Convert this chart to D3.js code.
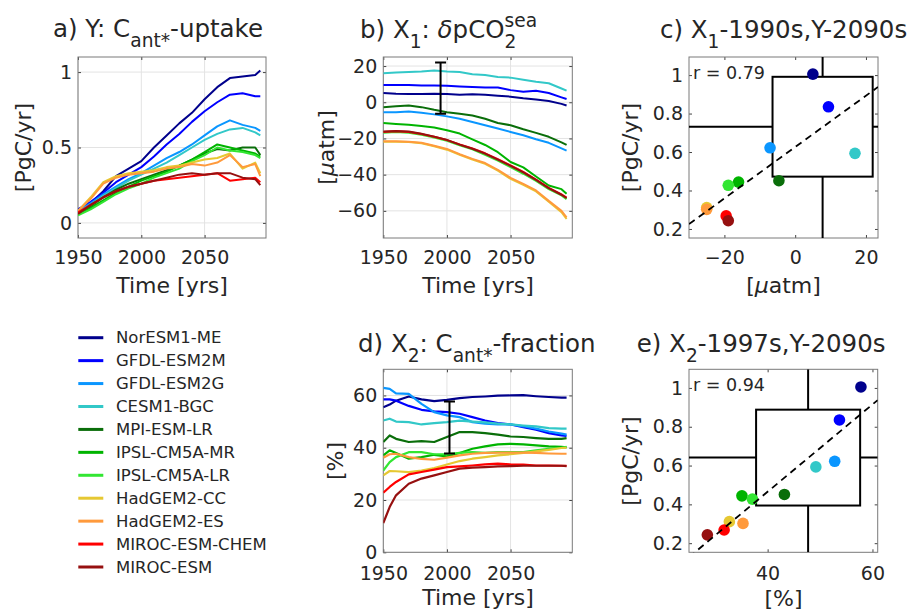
<!DOCTYPE html>
<html>
<head>
<meta charset="utf-8">
<script src="https://cdn.jsdelivr.net/npm/d3@7"></script>
<style>
	body { margin: 0; background: #fff; }
	svg { font-family: "DejaVu Sans", sans-serif; fill: #262626; }
</style>
</head>
<body>
<svg id="fig" width="913" height="610"></svg>
<script>
// model names + colours (legend order)
var models = ['NorESM1-ME', 'GFDL-ESM2M', 'GFDL-ESM2G', 'CESM1-BGC', 'MPI-ESM-LR', 'IPSL-CM5A-MR',
	'IPSL-CM5A-LR', 'HadGEM2-CC', 'HadGEM2-ES', 'MIROC-ESM-CHEM', 'MIROC-ESM'];
var colors = ['#00008c', '#0000ff', '#0a96ff', '#32c8c8', '#0a6e0a', '#00b400',
	'#32e632', '#e6c832', '#ff9a3c', '#ff0000', '#961010'];

// a) C_ant* uptake [PgC/yr]
var yearsA = [1950, 1960, 1970, 1980, 1990, 2000, 2010, 2020, 2030, 2040, 2050, 2060, 2070, 2080, 2090, 2094];
var uptake = [
	[0.09, 0.13, 0.21, 0.31, 0.36, 0.41, 0.50, 0.58, 0.66, 0.73, 0.82, 0.90, 0.96, 0.97, 0.98, 1.01],
	[0.09, 0.14, 0.20, 0.27, 0.32, 0.37, 0.44, 0.52, 0.59, 0.67, 0.74, 0.80, 0.85, 0.86, 0.84, 0.84],
	[0.08, 0.13, 0.19, 0.24, 0.29, 0.33, 0.38, 0.43, 0.47, 0.52, 0.58, 0.64, 0.68, 0.65, 0.63, 0.61],
	[0.08, 0.12, 0.18, 0.23, 0.28, 0.32, 0.36, 0.40, 0.45, 0.50, 0.55, 0.59, 0.62, 0.63, 0.60, 0.58],
	[0.06, 0.11, 0.17, 0.22, 0.26, 0.29, 0.32, 0.35, 0.38, 0.42, 0.46, 0.49, 0.48, 0.50, 0.50, 0.45],
	[0.06, 0.10, 0.15, 0.20, 0.24, 0.28, 0.31, 0.34, 0.38, 0.42, 0.47, 0.52, 0.50, 0.48, 0.46, 0.44],
	[0.05, 0.09, 0.14, 0.19, 0.23, 0.26, 0.30, 0.33, 0.36, 0.41, 0.45, 0.50, 0.48, 0.47, 0.45, 0.43],
	[0.08, 0.17, 0.27, 0.31, 0.33, 0.34, 0.35, 0.37, 0.38, 0.40, 0.42, 0.43, 0.46, 0.36, 0.40, 0.33],
	[0.08, 0.16, 0.26, 0.30, 0.32, 0.33, 0.34, 0.36, 0.37, 0.39, 0.38, 0.40, 0.45, 0.37, 0.39, 0.31],
	[0.07, 0.12, 0.17, 0.21, 0.24, 0.26, 0.28, 0.29, 0.30, 0.31, 0.32, 0.33, 0.28, 0.29, 0.30, 0.27],
	[0.06, 0.12, 0.17, 0.21, 0.24, 0.26, 0.28, 0.30, 0.32, 0.33, 0.32, 0.33, 0.33, 0.30, 0.29, 0.25]
];

// b) delta pCO2 sea [uatm]
var dpco2 = [
	[5.1, 4.7, 4.5, 4.5, 4.7, 4.5, 4.2, 4.4, 4.2, 3.6, 3.1, 2.2, 1.5, 0.7, -0.9, -1.8],
	[9.5, 9.5, 9.5, 9.3, 9.3, 9.1, 8.7, 8.4, 8.2, 8.2, 6.7, 5.8, 6.4, 5.1, 2.7, 1.8],
	[-5.5, -5.5, -5.1, -5.8, -6.7, -7.8, -9.1, -10.9, -12.7, -14.5, -16.4, -18.2, -20.4, -22.4, -25.5, -26.7],
	[16, 16.4, 16.7, 17, 17.5, 17, 16.7, 15.5, 15, 14, 13.6, 12.4, 11.3, 10.5, 7.6, 6.4],
	[-2.7, -2.2, -1.8, -2.7, -4.2, -5.5, -6.4, -7.3, -9.1, -11.5, -12.7, -14.9, -16.9, -19.1, -22.2, -23.6],
	[-11.5, -12, -12.4, -13.1, -14, -15.5, -17.3, -20.5, -23.6, -27.6, -33, -36, -41, -46, -48, -50.5],
	[-16.8, -16.4, -16.8, -18, -19.5, -21.3, -23.8, -26, -29, -32.3, -35.8, -39.5, -43.5, -48, -51.5, -53.5],
	[-21.8, -21.8, -22, -22.7, -24.3, -26.2, -29, -31.6, -34, -37.8, -42.3, -45.6, -49.3, -55, -60.7, -64.5],
	[-21.5, -21.5, -21.8, -22.4, -24, -25.8, -28.7, -31.3, -33.6, -37.3, -41.8, -45.1, -48.7, -54.5, -60, -63.6],
	[-16.4, -16, -16.4, -17.6, -19.1, -20.9, -23.3, -25.5, -28.2, -31.5, -34.9, -38.5, -42.7, -47.3, -50.9, -52.7],
	[-16.2, -15.9, -16.2, -17.4, -19, -20.8, -23.4, -25.7, -28.4, -31.7, -35.1, -38.7, -42.9, -47.5, -51.1, -52.9]
];

// d) C_ant* fraction [%]
var yearsD = [1950, 1955, 1960, 1970, 1980, 1990, 2000, 2010, 2020, 2030, 2040, 2050, 2060, 2070, 2080, 2090, 2094];
var fraction = [
	[55.5, 56.5, 58, 59.6, 58.5, 57.8, 58.3, 59, 59.4, 59.6, 59.9, 60, 60.1, 59.7, 59.4, 59.2, 59.2],
	[58.5, 58.5, 58, 56, 54.5, 53.9, 53.6, 53, 51.7, 50.4, 49.4, 48.9, 47.9, 46.9, 45.6, 44.7, 44.5],
	[62.9, 62.5, 60.8, 60.6, 56.8, 53.6, 52.4, 51.7, 49.8, 49.2, 48.9, 48.9, 48.2, 47.3, 46.2, 45.4, 45],
	[50.4, 51.1, 50, 49.8, 48.9, 49.4, 49.8, 50.4, 50, 49.7, 49.2, 48.9, 48.5, 48.2, 47.5, 47.3, 47.3],
	[42.2, 44.7, 43.4, 42.2, 42.5, 42.2, 44.1, 46, 46, 45.6, 45, 44.3, 44.1, 43.7, 43.4, 43.4, 43.7],
	[37.1, 39, 38, 35.8, 36.4, 37.3, 36.7, 38, 39.6, 40.5, 41.3, 41.5, 41.3, 40.9, 40.5, 40.3, 40.1],
	[31.3, 34.5, 36.4, 38.3, 38.3, 37.5, 37.5, 38, 38.3, 38, 38.3, 38.3, 38.3, 39, 39.6, 40, 40.3],
	[29.4, 31.1, 31, 30.7, 31.3, 32.2, 33.6, 34.9, 35.8, 36.4, 37.1, 37.5, 38, 38.6, 39.2, 39.9, 40],
	[36.2, 37.5, 37.7, 36.4, 35.7, 35.4, 36.2, 37.1, 37.7, 38, 38.1, 38.1, 38.1, 38, 37.8, 37.7, 37.7],
	[22.8, 25, 26.9, 29.8, 30.7, 31.6, 32.6, 32.9, 33.2, 33.6, 33.9, 33.6, 33.5, 33.2, 33.2, 33.1, 33.1],
	[11.2, 17.3, 21.8, 26.2, 28.2, 29.4, 30.7, 32, 32.4, 32.6, 32.9, 33, 33.1, 33.1, 33.1, 33.1, 33]
];

// scatter values (c, e)
var x1990s = [5.0, 9.4, -7.1, 16.9, -4.6, -16.0, -18.9, -25.0, -25.0, -19.5, -18.9];
var x1997s = [57.8, 53.7, 52.8, 49.2, 43.2, 35.1, 37.1, 32.7, 35.3, 31.7, 28.5];
var y2090s = [1.005, 0.835, 0.622, 0.593, 0.451, 0.444, 0.427, 0.311, 0.302, 0.268, 0.243];

// observational constraints (boxes / error bars)
var obsX1 = [-6.4, 21.9], obsY1 = [0.472, 0.991], obsYear1 = 1995;
var obsX2 = [37.8, 57.65], obsY2 = [0.394, 0.888], obsYear2 = 2002;
var rText = ['r = 0.79', 'r = 0.94'];

var svg = d3.select('#fig');
var tickFont = 19, labelFont = 22, titleFont = 24.5;

// text with sub/superscripts: parts = [text, kind, stackOnPrev, italic]
function richText(g, x, y, parts, size) {
	var cx = x, lastX = x;
	var t0 = g.append('g').style('font-size', size + 'px');
	parts.forEach(function(p) {
		var small = p[1] == 'sub' || p[1] == 'sup';
		var dy = p[1] == 'sub' ? size * 0.42 : (p[1] == 'sup' ? -size * 0.46 : 0);
		var px = p[2] ? lastX : cx;
		lastX = px;
		var t = t0.append('text').attr('x', px).attr('y', y + dy)
			.style('font-size', (small ? size * 0.76 : size) + 'px')
			.text(p[0].replace(/ /g, '\u00a0'));
		if (p[3]) t.style('font-style', 'italic');
		cx = Math.max(cx, px + t.node().getComputedTextLength());
	});
	return t0;
}

function makeAxes(box, xDom, yDom, xTicks, yTicks, opts) {
	var g = svg.append('g').attr('transform', 'translate(' + box.x + ',' + box.y + ')');
	var x = d3.scaleLinear().domain(xDom).range([0, box.w]);
	var y = d3.scaleLinear().domain(yDom).range([box.h, 0]);
	if (opts.grid) {
		g.append('g').selectAll('line').data(xTicks).join('line')
			.attr('x1', d => x(d)).attr('x2', d => x(d)).attr('y1', 0).attr('y2', box.h)
			.attr('stroke', '#e3e3e3');
		g.append('g').selectAll('line').data(yTicks).join('line')
			.attr('y1', d => y(d)).attr('y2', d => y(d)).attr('x1', 0).attr('x2', box.w)
			.attr('stroke', '#e3e3e3');
	}
	var axB = g.append('g').attr('transform', 'translate(0,' + box.h + ')')
		.call(d3.axisBottom(x).tickValues(xTicks).tickSize(-3).tickPadding(opts.xpad || 13).tickFormat(opts.xfmt || d3.format('d')));
	var axL = g.append('g')
		.call(d3.axisLeft(y).tickValues(yTicks).tickSize(-3).tickPadding(6).tickFormat(opts.yfmt || d3.format('d')));
	g.append('g').call(d3.axisTop(x).tickValues(xTicks).tickSize(-3).tickFormat(''));
	g.append('g').attr('transform', 'translate(' + box.w + ',0)')
		.call(d3.axisRight(y).tickValues(yTicks).tickSize(-3).tickFormat(''));
	g.selectAll('.domain').remove();
	g.selectAll('.tick line').attr('stroke', '#444');
	[axB, axL].forEach(function(a) {
		a.selectAll('text').style('font-size', tickFont + 'px').style('font-family', 'DejaVu Sans')
			.attr('fill', '#262626');
	});
	g.append('rect').attr('width', box.w).attr('height', box.h)
		.attr('fill', 'none').attr('stroke', '#7a7a7a');
	var id = 'clip' + Math.round(box.x) + '_' + Math.round(box.y);
	g.append('clipPath').attr('id', id).append('rect').attr('width', box.w).attr('height', box.h);
	var plot = g.append('g').attr('clip-path', 'url(#' + id + ')');
	return {g: g, x: x, y: y, plot: plot, box: box};
}

function label(x, y, parts, rotate) {
	var t = svg.append('text').attr('text-anchor', 'middle').attr('dy', '0.35em')
		.style('font-size', labelFont + 'px')
		.attr('transform', 'translate(' + x + ',' + y + ')' + (rotate ? ' rotate(-90)' : ''));
	parts.forEach(function(p) {
		var s = t.append('tspan').text(p[0]);
		if (p[1]) s.style('font-style', 'italic');
	});
}

function drawLines(ax, years, series, width) {
	var line = d3.line().x((d, i) => ax.x(years[i])).y(d => ax.y(d));
	series.forEach(function(s, k) {
		ax.plot.append('path').datum(s).attr('d', line)
			.attr('fill', 'none').attr('stroke', colors[k]).attr('stroke-width', width)
			.attr('stroke-linejoin', 'round');
	});
}

function errorBar(ax, year, range) {
	var xp = ax.x(year);
	var g = ax.plot.append('g').attr('stroke', '#000').attr('stroke-width', 2);
	g.append('line').attr('x1', xp).attr('x2', xp).attr('y1', ax.y(range[0])).attr('y2', ax.y(range[1]));
	range.forEach(function(v) {
		g.append('line').attr('x1', xp - 5.5).attr('x2', xp + 5.5).attr('y1', ax.y(v)).attr('y2', ax.y(v));
	});
}

function scatter(ax, xs, ys, bx, by, r) {
	var x = ax.x, y = ax.y, w = ax.box.w, h = ax.box.h;
	var cx = (bx[0] + bx[1]) / 2, cy = (by[0] + by[1]) / 2;
	var g = ax.plot.append('g').attr('stroke', '#000').attr('stroke-width', 2).attr('fill', 'none');
	g.append('rect').attr('x', x(bx[0])).attr('y', y(by[1]))
		.attr('width', x(bx[1]) - x(bx[0])).attr('height', y(by[0]) - y(by[1]));
	g.append('line').attr('x1', x(cx)).attr('x2', x(cx)).attr('y1', 0).attr('y2', y(by[1]));
	g.append('line').attr('x1', x(cx)).attr('x2', x(cx)).attr('y1', y(by[0])).attr('y2', h);
	g.append('line').attr('x1', 0).attr('x2', x(bx[0])).attr('y1', y(cy)).attr('y2', y(cy));
	g.append('line').attr('x1', x(bx[1])).attr('x2', w).attr('y1', y(cy)).attr('y2', y(cy));

	ax.plot.append('g').selectAll('circle').data(xs).join('circle')
		.attr('cx', d => x(d)).attr('cy', (d, i) => y(ys[i])).attr('r', 5.8)
		.attr('fill', (d, i) => colors[i]);

	// least squares fit
	var mx = d3.mean(xs), my = d3.mean(ys);
	var b = d3.sum(xs, (d, i) => (d - mx) * (ys[i] - my)) / d3.sum(xs, d => (d - mx) * (d - mx));
	var dom = x.domain();
	ax.plot.append('line')
		.attr('x1', x(dom[0])).attr('y1', y(my + b * (dom[0] - mx)))
		.attr('x2', x(dom[1])).attr('y2', y(my + b * (dom[1] - mx)))
		.attr('stroke', '#000').attr('stroke-width', 1.8).attr('stroke-dasharray', '7,5');

	ax.g.append('text').attr('x', 4).attr('y', 22).style('font-size', '17.5px').text(r);
}

var dfmt = function(d) { return d3.format('~g')(d); };

// a)
var axA = makeAxes({x: 78, y: 57, w: 188, h: 181}, [1950, 2098.5], [-0.1, 1.1],
	[1950, 2000, 2050], [0, 0.5, 1], {grid: true, yfmt: dfmt});
drawLines(axA, yearsA, uptake, 2);
richText(svg, 53, 37, [['a) Y: C'], ['ant*', 'sub'], ['-uptake']], titleFont);
label(23, 147.5, [['[PgC/yr]']], true);
label(172, 285, [['Time [yrs]']]);

// b)
var axB = makeAxes({x: 383.3, y: 57, w: 189, h: 181}, [1950, 2098.5], [-75, 25],
	[1950, 2000, 2050], [-60, -40, -20, 0, 20], {grid: true});
drawLines(axB, yearsA, dpco2, 2);
errorBar(axB, obsYear1, obsX1);
richText(svg, 360, 38, [['b) X'], ['1', 'sub'], [': '], ['δ', '', false, true], ['pCO'], ['2', 'sub'], ['sea', 'sup', true]], titleFont);
label(326.7, 147.5, [['['], ['μ', true], ['atm]']], true);
label(478, 285, [['Time [yrs]']]);

// c)
var axC = makeAxes({x: 689, y: 57, w: 189, h: 181}, [-30, 23.4], [0.153, 1.094],
	[-20, 0, 20], [0.2, 0.4, 0.6, 0.8, 1], {yfmt: dfmt});
scatter(axC, x1990s, y2090s, obsX1, obsY1, rText[0]);
richText(svg, 660, 38, [['c) X'], ['1', 'sub'], ['-1990s,Y-2090s']], titleFont);
label(630, 147.5, [['[PgC/yr]']], true);
label(783.5, 285, [['['], ['μ', true], ['atm]']]);

// d)
var axD = makeAxes({x: 383.3, y: 369.3, w: 189, h: 183}, [1950, 2098.5], [0, 70],
	[1950, 2000, 2050], [0, 20, 40, 60], {grid: true, xpad: 14});
drawLines(axD, yearsD, fraction, 2.2);
errorBar(axD, obsYear2, obsX2);
richText(svg, 358, 352, [['d) X'], ['2', 'sub'], [': C'], ['ant*', 'sub'], ['-fraction']], titleFont);
label(335, 461, [['[%]']], true);
label(478, 597.5, [['Time [yrs]']]);

// e)
var axE = makeAxes({x: 689, y: 369.3, w: 188.7, h: 183}, [25, 61], [0.153, 1.096],
	[40, 60], [0.2, 0.4, 0.6, 0.8, 1], {xpad: 14, yfmt: dfmt});
scatter(axE, x1997s, y2090s, obsX2, obsY2, rText[1]);
richText(svg, 636.7, 352, [['e) X'], ['2', 'sub'], ['-1997s,Y-2090s']], titleFont);
label(630, 461, [['[PgC/yr]']], true);
label(783.5, 598.3, [['[%]']]);

// legend
var leg = svg.append('g').attr('transform', 'translate(78.3,337.7)');
models.forEach(function(m, i) {
	leg.append('line').attr('x1', 0).attr('x2', 25).attr('y1', i * 22.93).attr('y2', i * 22.93)
		.attr('stroke', colors[i]).attr('stroke-width', 3);
	leg.append('text').attr('x', 37.7).attr('y', i * 22.93).attr('dy', '0.35em')
		.style('font-size', '16.5px').text(m);
});
</script>
</body>
</html>
